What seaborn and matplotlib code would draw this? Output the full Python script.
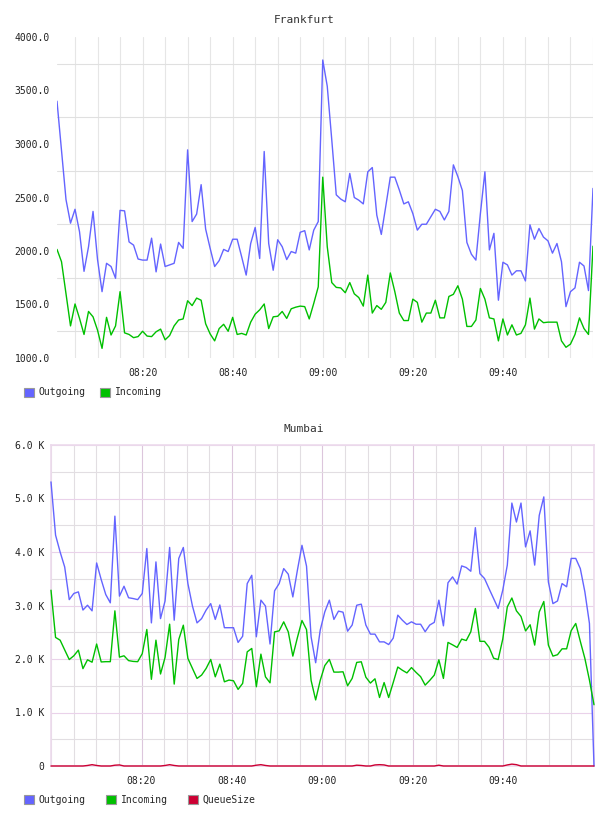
import numpy as np
import pandas as pd
import matplotlib
matplotlib.use("Agg")
import matplotlib.pyplot as plt
import matplotlib.dates as mdates
from matplotlib.patches import Patch
from matplotlib.ticker import FixedLocator, MultipleLocator
import seaborn as sns

# Frankfurt: one sample per minute, 08:01 - 10:00
fra_outgoing = [3400, 2940, 2480, 2260, 2390, 2180, 1810, 2040, 2370, 1920,
                1620, 1885, 1855, 1745, 2380, 2375, 2085, 2055, 1925, 1915,
                1915, 2120, 1805, 2065, 1855, 1870, 1885, 2080, 2025, 2945,
                2275, 2345, 2620, 2205, 2025, 1855, 1910, 2015, 1995, 2110,
                2110, 1945, 1775, 2070, 2220, 1930, 2930, 2070, 1820, 2105,
                2040, 1920, 1995, 1980, 2175, 2190, 2010, 2195, 2275, 3785,
                3540, 3040, 2525, 2485, 2460, 2725, 2500, 2475, 2440, 2740,
                2780, 2335, 2155, 2420, 2690, 2690, 2570, 2440, 2460, 2350,
                2195, 2250, 2250, 2320, 2390, 2370, 2290, 2370, 2805, 2695,
                2565, 2080, 1970, 1915, 2350, 2740, 2010, 2165, 1540, 1895,
                1870, 1775, 1815, 1815, 1720, 2245, 2110, 2210, 2130, 2095,
                1980, 2070, 1900, 1480, 1620, 1655, 1895, 1860, 1630, 2585]
fra_incoming = [2015, 1900, 1600, 1300, 1505, 1370, 1220, 1435, 1385, 1260,
                1090, 1380, 1215, 1300, 1620, 1235, 1220, 1190, 1200, 1250,
                1205, 1200, 1245, 1270, 1170, 1210, 1300, 1355, 1365, 1535,
                1490, 1560, 1540, 1320, 1225, 1160, 1275, 1315, 1250, 1380,
                1220, 1230, 1215, 1335, 1410, 1450, 1505, 1275, 1385, 1390,
                1435, 1370, 1460, 1475, 1485, 1480, 1365, 1510, 1665, 2690,
                2040, 1705, 1660, 1655, 1610, 1705, 1600, 1565, 1485, 1775,
                1420, 1490, 1455, 1520, 1795, 1620, 1420, 1350, 1350, 1550,
                1520, 1335, 1420, 1420, 1540, 1375, 1375, 1575, 1595, 1675,
                1550, 1295, 1295, 1355, 1650, 1550, 1375, 1365, 1160, 1365,
                1215, 1310, 1215, 1230, 1310, 1560, 1270, 1365, 1330, 1335,
                1335, 1335, 1160, 1100, 1130, 1220, 1375, 1275, 1220, 2045]

# Mumbai: 120 samples, 08:00 - 10:00
mum_outgoing = [5310, 4315, 4000, 3720, 3110, 3225, 3255, 2915, 3005, 2900,
                3795, 3485, 3205, 3050, 4670, 3175, 3360, 3145, 3130, 3110,
                3225, 4065, 2675, 3815, 2755, 3085, 4085, 2725, 3880, 4085,
                3410, 2990, 2675, 2755, 2915, 3035, 2740, 3010, 2585, 2585,
                2585, 2310, 2425, 3410, 3565, 2415, 3100, 2990, 2280, 3275,
                3410, 3690, 3585, 3160, 3660, 4125, 3735, 2415, 1930, 2540,
                2880, 3100, 2740, 2895, 2875, 2520, 2635, 3005, 3025, 2635,
                2465, 2465, 2320, 2320, 2270, 2390, 2820, 2725, 2645, 2695,
                2650, 2650, 2510, 2635, 2685, 3100, 2620, 3425, 3535, 3400,
                3740, 3710, 3640, 4455, 3595, 3505, 3315, 3130, 2945, 3285,
                3755, 4915, 4560, 4915, 4095, 4395, 3755, 4685, 5030, 3440,
                3035, 3085, 3410, 3350, 3880, 3880, 3690, 3255, 2665, 0]
mum_incoming = [3286, 2403, 2352, 2170, 1990, 2060, 2166, 1820, 1985, 1940,
                2280, 1945, 1950, 1950, 2900, 2035, 2060, 1970, 1955, 1950,
                2100, 2552, 1620, 2352, 1720, 2030, 2651, 1531, 2365, 2632,
                2011, 1824, 1637, 1699, 1824, 1992, 1667, 1904, 1574, 1606,
                1593, 1432, 1544, 2134, 2197, 1481, 2091, 1667, 1555, 2507,
                2526, 2694, 2507, 2054, 2400, 2720, 2550, 1600, 1235, 1600,
                1877, 1992, 1755, 1755, 1761, 1500, 1637, 1936, 1948, 1660,
                1550, 1630, 1280, 1560, 1280, 1560, 1850, 1790, 1740, 1840,
                1750, 1670, 1512, 1600, 1699, 1985, 1637, 2310, 2265, 2216,
                2372, 2345, 2509, 2944, 2330, 2330, 2220, 2015, 1990, 2370,
                2975, 3140, 2900, 2795, 2525, 2640, 2260, 2880, 3075, 2260,
                2054, 2080, 2190, 2190, 2530, 2664, 2330, 2010, 1606, 1145]
mum_queue = [0, 0, 0, 0, 0, 0, 0, 0, 10, 25,
             10, 0, 0, 0, 15, 20, 0, 0, 0, 0,
             0, 0, 0, 0, 0, 10, 25, 10, 0, 0,
             0, 0, 0, 0, 0, 0, 0, 0, 0, 0,
             0, 0, 0, 0, 0, 15, 25, 10, 0, 0,
             0, 0, 0, 0, 0, 0, 0, 0, 0, 0,
             0, 0, 0, 0, 0, 0, 0, 15, 10, 0,
             0, 20, 25, 20, 0, 0, 0, 0, 0, 0,
             0, 0, 0, 0, 0, 15, 0, 0, 0, 0,
             0, 0, 0, 0, 0, 0, 0, 0, 0, 0,
             20, 35, 25, 0, 0, 0, 0, 0, 0, 0,
             0, 0, 0, 0, 0, 0, 0, 0, 0, 0]

time_ticks = ["08:20", "08:40", "09:00", "09:20", "09:40"]
fra_yticks = [1000, 1500, 2000, 2500, 3000, 3500, 4000]
fra_ylabels = ["1000.0", "1500.0", "2000.0", "2500.0", "3000.0", "3500.0", "4000.0"]
mum_yticks = [0, 1000, 2000, 3000, 4000, 5000, 6000]
mum_ylabels = ["0", "1.0 K", "2.0 K", "3.0 K", "4.0 K", "5.0 K", "6.0 K"]

colors = {"Outgoing": "#6464ff", "Incoming": "#00c000", "QueueSize": "#cc0033"}
DAY = "2024-01-01 "

fra_times = pd.date_range(DAY + "08:01", periods=len(fra_outgoing), freq="min")
mum_times = pd.date_range(DAY + "08:00", DAY + "10:00", periods=len(mum_outgoing))

fra = pd.DataFrame({"time": fra_times, "Outgoing": fra_outgoing, "Incoming": fra_incoming})
fra = fra.melt(id_vars="time", var_name="series", value_name="value")
mum = pd.DataFrame({"time": mum_times, "Outgoing": mum_outgoing,
                    "Incoming": mum_incoming, "QueueSize": mum_queue})
mum = mum.melt(id_vars="time", var_name="series", value_name="value")

sns.set_style("white")
plt.rcParams["font.family"] = ["DejaVu Sans Mono", "DejaVu Sans"]

fig = plt.figure(figsize=(6.08, 8.16), dpi=100)
W, H = 608, 816
ax1 = fig.add_axes([57 / W, 1 - 358 / H, 536 / W, 321 / H])
ax2 = fig.add_axes([51 / W, 1 - 766 / H, 543 / W, 321 / H])

sns.lineplot(data=fra, x="time", y="value", hue="series", palette=colors,
             hue_order=["Outgoing", "Incoming"], estimator=None, legend=False,
             linewidth=1.0, ax=ax1, zorder=3)
sns.lineplot(data=mum, x="time", y="value", hue="series", palette=colors,
             hue_order=["Outgoing", "Incoming", "QueueSize"], estimator=None,
             legend=False, linewidth=1.0, ax=ax2, clip_on=False, zorder=3)

tick_pos = mdates.date2num(pd.to_datetime([DAY + t for t in time_ticks]))

for ax in (ax1, ax2):
    ax.set_xlabel("")
    ax.set_ylabel("")
    ax.set_axisbelow(True)
    ax.xaxis.set_major_locator(FixedLocator(tick_pos))
    ax.set_xticklabels(time_ticks)
    ax.xaxis.set_minor_locator(mdates.MinuteLocator(byminute=range(0, 60, 5)))
    ax.tick_params(which="both", length=0, labelsize=7, colors="#222222")
    ax.tick_params(axis="y", pad=5)
    ax.tick_params(axis="x", pad=7.5)

# Frankfurt
ax1.set_xlim(fra_times[0], fra_times[-1])
ax1.set_ylim(1000, 4000)
ax1.set_yticks(fra_yticks)
ax1.set_yticklabels(fra_ylabels)
ax1.yaxis.set_minor_locator(FixedLocator([1250, 1750, 2250, 2750, 3250, 3750]))
ax1.grid(which="both", axis="x", color="#e6e6e6", linewidth=0.8)
ax1.grid(which="minor", axis="y", color="#e0e0e0", linewidth=0.8)
for s in ax1.spines.values():
    s.set_visible(False)

# Mumbai
ax2.set_xlim(mum_times[0], mum_times[-1])
ax2.set_ylim(0, 6000)
ax2.set_yticks(mum_yticks)
ax2.set_yticklabels(mum_ylabels)
ax2.yaxis.set_minor_locator(MultipleLocator(500))
ax2.grid(which="major", axis="x", color="#dcc6dc", linewidth=0.8)
ax2.grid(which="major", axis="y", color="#ead2ea", linewidth=0.8)
ax2.grid(which="minor", color="#e2dee2", linewidth=0.8)
for s in ax2.spines.values():
    s.set_color("#ecdaec")
    s.set_linewidth(1.2)

fig.text(0.5, 1 - 20 / H, "Frankfurt", ha="center", va="center", fontsize=8, color="#333333")
fig.text(0.5, 1 - 429 / H, "Mumbai", ha="center", va="center", fontsize=8, color="#333333")


def add_legend(ax, names, ypix, spacing):
    handles = [Patch(facecolor=colors[n], edgecolor="#999999", linewidth=0.8, label=n)
               for n in names]
    ax.legend(handles=handles, loc="center left", bbox_to_anchor=(24 / W, 1 - ypix / H),
              bbox_transform=fig.transFigure, ncol=len(names), frameon=False,
              fontsize=7, handlelength=1.0, handleheight=1.0, handletextpad=0.5,
              columnspacing=spacing, borderpad=0, borderaxespad=0)


add_legend(ax1, ["Outgoing", "Incoming"], 392.5, 1.5)
add_legend(ax2, ["Outgoing", "Incoming", "QueueSize"], 800, 2.1)

fig.savefig("out.png", dpi=100)
